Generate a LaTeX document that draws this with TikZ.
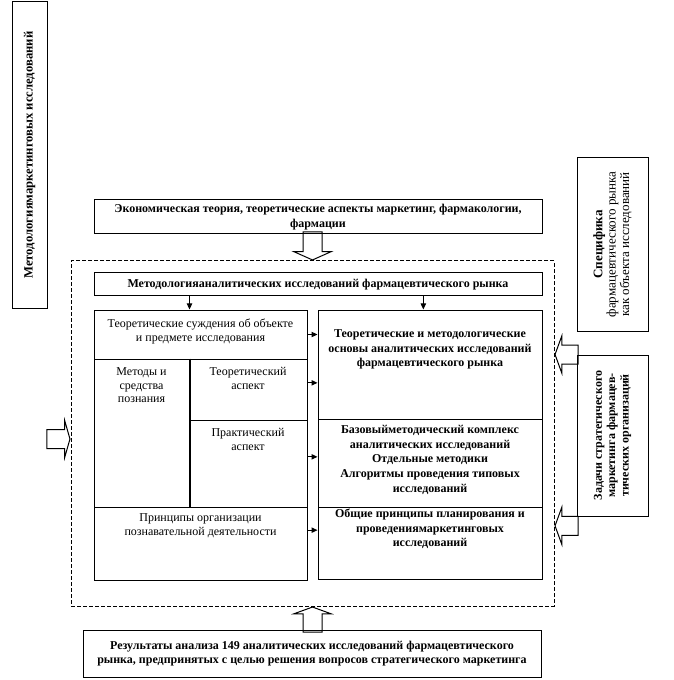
\documentclass[tikz,border=0pt]{standalone}
\usepackage{fontspec}
\setmainfont{Liberation Serif}
\usetikzlibrary{arrows.meta,positioning,shapes.arrows,calc}

\begin{document}
\begin{tikzpicture}[x=0.75pt,y=-0.75pt,line width=0.75pt,
   every node/.style={font=\fontsize{9}{10.5}\selectfont},
   hbox/.style={draw,align=center,inner sep=1pt,font=\fontsize{9}{11}\selectfont\bfseries},
   cell/.style={draw,inner sep=0pt},
   ctext/.style={align=center,inner sep=0pt,font=\fontsize{9}{10.2}\selectfont},
   btext/.style={align=center,inner sep=0pt,font=\fontsize{9}{10.9}\selectfont\bfseries},
   vbox/.style={draw,rotate=90,align=center,inner sep=1pt,font=\fontsize{9.8}{8.6}\selectfont},
   arr/.style={-{Triangle[length=4.5pt,width=4pt]}},
   harrow/.style={draw,single arrow,single arrow head extend=6.75pt,
                  single arrow tip angle=140,inner xsep=0pt,inner ysep=6.75pt,
                  minimum width=0pt}
]
\useasboundingbox (0,0) rectangle (673,680);

% Side titles
\node[vbox,font=\fontsize{9.5}{10}\selectfont\bfseries,minimum width=229.5pt,
      minimum height=26.25pt] (metmark) at (29.5,155) {Методологиямаркетинговых исследований};
\node[vbox,minimum width=129.75pt,minimum height=53.25pt] (spec) at (612.5,244.5)
     {\textbf{Специфика}\\ фармацевтического рынка\\ как объекта исследований};
\node[vbox,font=\fontsize{9}{10}\selectfont\bfseries,minimum width=120.75pt,
      minimum height=53.25pt] (zad) at (612.5,435.5)
     {Задачи стратегического\\ маркетинга фармацев-\\ тических организаций};

% Input from above
\node[hbox,minimum width=336pt,minimum height=25.5pt] (econ) at (318,217)
     {Экономическая теория, теоретические аспекты маркетинг, фармакологии,\\ фармации};

% Dashed frame
\node[draw,dash pattern=on 3pt off 1.5pt,inner sep=0pt,minimum width=362.25pt,
      minimum height=258.75pt] (frame) at (312.5,433.5) {};

\node[hbox,minimum width=336pt,minimum height=17.25pt] (meth) at (318,284.5)
     {Методологияаналитических исследований фармацевтического рынка};

% Left column
\node[cell,minimum width=159.75pt,minimum height=36.75pt] (lt1) at (200.5,334.5) {};
\node[cell,minimum width=71.25pt,minimum height=111pt] (lt2) at (141.5,433) {};
\node[cell,minimum width=88.5pt,minimum height=45.75pt] (lt3) at (248,389.5) {};
\node[cell,minimum width=88.5pt,minimum height=65.25pt] (lt4) at (248,463.5) {};
\node[cell,minimum width=159.75pt,minimum height=54.75pt] (lt5) at (200.5,543.5) {};
\draw[line width=1.5pt] (lt2.north east) -- (lt2.south east);

\node[ctext,below=7pt of lt1.north] (lt1t) {Теоретические суждения об объекте\\ и предмете исследования};
\node[ctext,below=6.5pt of lt2.north] (lt2t) {Методы и\\ средства\\ познания};
\node[ctext,below=6.5pt of lt3.north] (lt3t) {Теоретический\\ аспект};
\node[ctext,below=6.5pt of lt4.north] (lt4t) {Практический\\ аспект};
\node[ctext,below=5pt of lt5.north] (lt5t) {Принципы организации\\ познавательной деятельности};

% Right column
\node[cell,minimum width=168pt,minimum height=81.75pt] (rt1) at (430,364.5) {};
\node[cell,minimum width=168pt,minimum height=66pt] (rt2) at (430,463) {};
\node[cell,minimum width=168pt,minimum height=54pt] (rt3) at (430,543) {};

\node[btext,below=15pt of rt1.north] (rt1t) {Теоретические и методологические\\
     основы аналитических исследований\\ фармацевтического рынка};
\node[btext,below=5pt of rt2.north] (rt2t) {Базовыйметодический комплекс\\
     аналитических исследований\\ Отдельные методики\\
     Алгоритмы проведения типовых\\ исследований};
\node[btext,below=1.5pt of rt3.north] (rt3t) {Общие принципы планирования и\\
     проведениямаркетинговых\\ исследований};

% Small arrows
\draw[arr] (meth.south -| lt2.east) -- (lt1.north -| lt2.east);
\draw[arr] ([xshift=-5pt]meth.south -| rt1.north) -- ([xshift=-5pt]rt1.north);
\draw[arr] (lt1.east) -- (lt1.east -| rt1.west);
\draw[arr] ([yshift=5pt]lt3.east) -- ([yshift=5pt]lt3.east -| rt1.west);
\draw[arr] ([yshift=5pt]lt4.east) -- ([yshift=5pt]lt4.east -| rt2.west);
\draw[arr] ([yshift=10pt]lt5.east) -- ([yshift=10pt]lt5.east -| rt3.west);

% Input from below
\node[hbox,minimum width=343.5pt,minimum height=35.25pt] (results) at (312,653.5)
     {Результаты анализа 149 аналитических исследований фармацевтического\\
      рынка, предпринятых с целью решения вопросов стратегического маркетинга};

% Hollow arrows
\node[harrow,rotate=-90,single arrow tip angle=132,minimum height=21pt,anchor=tip] (ain)
     at (frame.north) {};
\node[harrow,rotate=90,minimum height=18.75pt,anchor=tip] (rin) at (frame.south) {};
\node[harrow,rotate=180,minimum height=17.25pt,anchor=tip] (zin1) at (frame.east |- zad.east) {};
\node[harrow,rotate=180,minimum height=17.25pt,anchor=tip] (zin2)
     at ([yshift=-7pt]frame.east |- zad.west) {};
\node[harrow,single arrow tip angle=148,minimum height=17.25pt,anchor=tip] (lin)
     at ([yshift=-4.5pt]frame.west |- lt2.west) {};

\end{tikzpicture}
\end{document}
